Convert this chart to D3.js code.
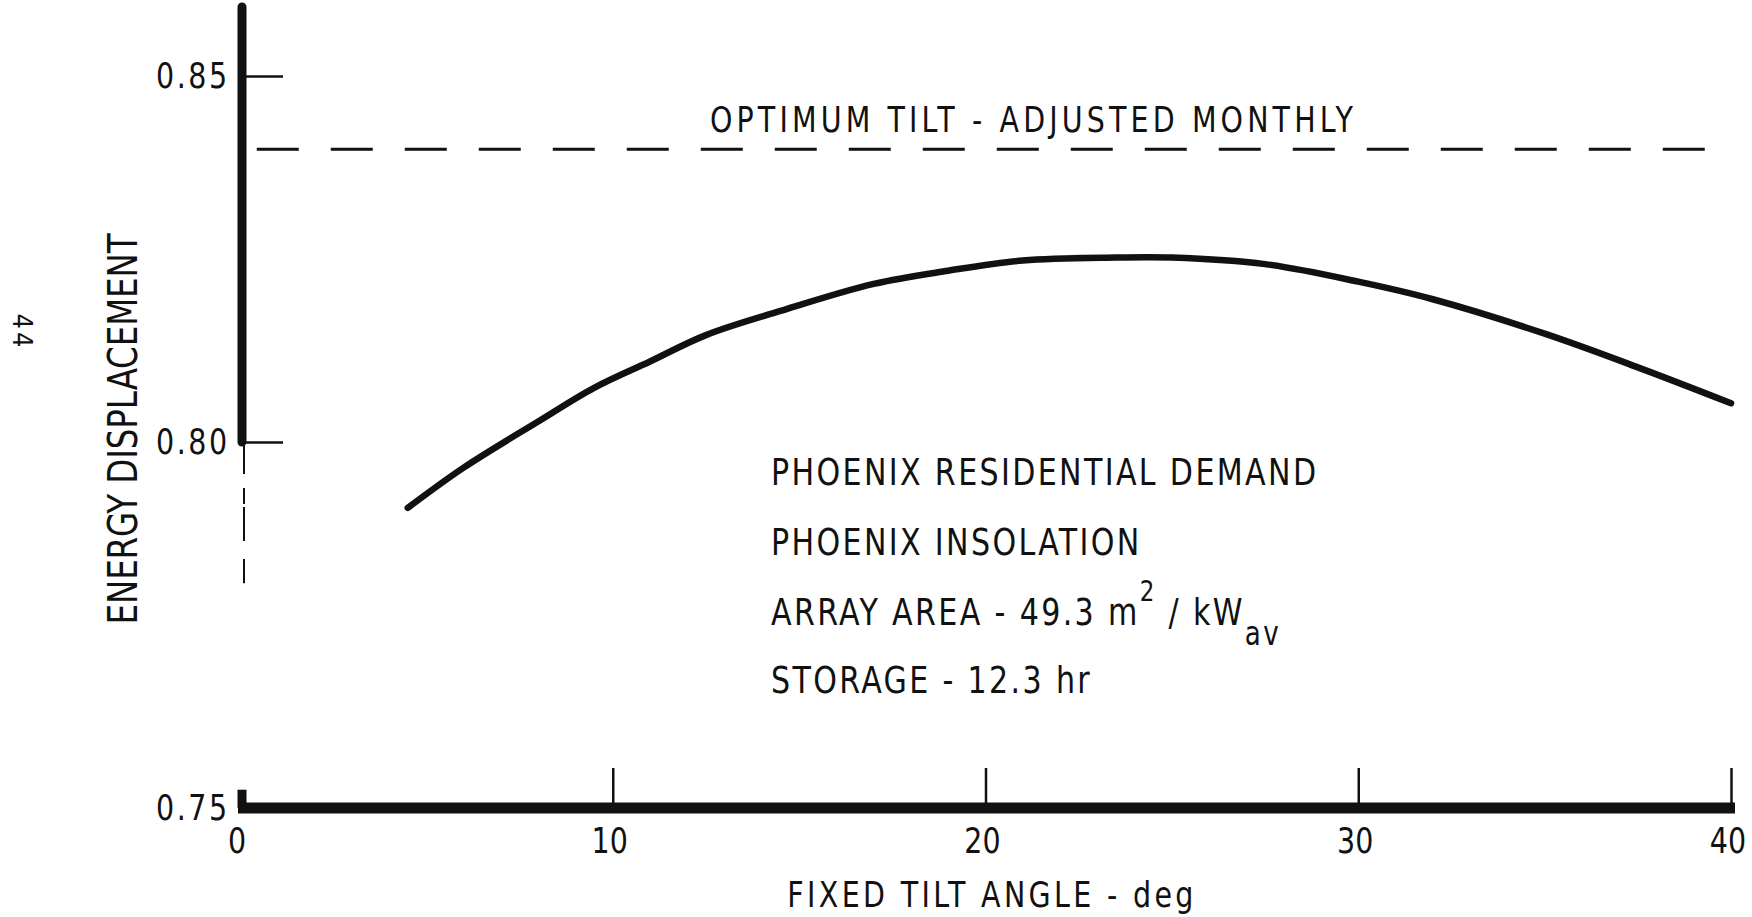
<!DOCTYPE html>
<html>
<head>
<meta charset="utf-8">
<script src="https://cdn.jsdelivr.net/npm/d3@7"></script>
<style>
	html, body { margin: 0; padding: 0; background: #fff; }
	svg { display: block; }
	text { fill: #111; font-family: "DejaVu Sans Condensed", "DejaVu Sans", sans-serif; }
</style>
</head>
<body>
<div id="chart"></div>
<script>
'use strict';

// Fixed tilt curve
var tiltAngles = [4.5, 6, 8, 9.5, 11, 12.5, 14.5, 17, 19, 21, 23.5, 25, 27.5, 30, 32, 35, 37.5, 40];
var displacement = [0.791, 0.7965, 0.8028, 0.8074, 0.811, 0.8146, 0.8179, 0.8216, 0.8234, 0.8248, 0.8252, 0.8252, 0.8243, 0.8219, 0.8195, 0.8148, 0.8102, 0.8053];

// Optimum tilt, adjusted monthly (dashed reference)
var optimumValue = 0.84;
var optimumSpan = [0.45, 40];

var xTicks = [0, 10, 20, 30, 40];
var yTicks = [0.75, 0.80, 0.85];

var notes = ['PHOENIX RESIDENTIAL DEMAND', 'PHOENIX INSOLATION', 'ARRAY AREA - 49.3 m', 'STORAGE - 12.3 hr'];

var width = 1752, height = 917;
var NARROW = 0.88;   // lettering is a bit narrower than the installed fonts

var svg = d3.select('#chart')
	.append('svg')
	.attr('width', width)
	.attr('height', height);

var x = d3.scaleLinear().domain([0, 40]).range([240, 1731]);
var y = d3.scaleLinear().domain([0.75, 0.85]).range([808, 76]);

/*** Helpers ---> ***/
// widen letter spacing so the (narrowed) text spans the target width on screen
function spreadTo(sel, target, sx) {
	var node = sel.node();
	var natural = node.getComputedTextLength();
	var n = node.textContent.length;
	var s = (target / sx - natural) / (n - 1);
	sel.attr('letter-spacing', s.toFixed(2));
	return s;
}

function label(tx, ty, rot, str, size, anchor) {
	return svg.append('text')
		.attr('transform', 'translate(' + tx + ',' + ty + ') rotate(' + rot + ') scale(' + NARROW + ',1)')
		.attr('text-anchor', anchor)
		.attr('font-size', size)
		.text(str);
}
/*** <--- Helpers ***/

// Y axis: heavy rule down to 0.80, then a broken thin trace, and the stub at 0.75
svg.append('line')
	.attr('x1', 242).attr('x2', 242)
	.attr('y1', 7).attr('y2', y(0.80))
	.attr('stroke', '#111').attr('stroke-width', 9).attr('stroke-linecap', 'round');
svg.append('line')
	.attr('x1', 244).attr('x2', 244)
	.attr('y1', y(0.80)).attr('y2', y(0.7807))
	.attr('stroke', '#111').attr('stroke-width', 2)
	.attr('stroke-dasharray', '32 14 16 3 34 18 26');
svg.append('line')
	.attr('x1', 242).attr('x2', 242)
	.attr('y1', y(0.7525)).attr('y2', y(0.75))
	.attr('stroke', '#111').attr('stroke-width', 9);

var yAxis = d3.axisLeft(y)
	.tickValues(yTicks)
	.tickSizeInner(-41)
	.tickSizeOuter(0)
	.tickPadding(15)
	.tickFormat(d3.format('.2f'));

var gy = svg.append('g')
	.attr('transform', 'translate(242,0)')
	.call(yAxis);
gy.select('.domain').remove();
gy.selectAll('.tick line').attr('stroke', '#111').attr('stroke-width', 2.5);
gy.selectAll('.tick text')
	.attr('font-size', 36)
	.attr('fill', '#111')
	.attr('transform', 'scale(' + NARROW + ',1)')
	.each(function() {
		var s = spreadTo(d3.select(this), 71, NARROW);
		d3.select(this).attr('x', -15 / NARROW + s);
	});

// X axis
var xAxis = d3.axisBottom(x)
	.tickValues(xTicks)
	.tickSizeInner(-40)
	.tickSizeOuter(0)
	.tickPadding(19);

var gx = svg.append('g')
	.attr('transform', 'translate(0,' + y(0.75) + ')')
	.call(xAxis);
gx.select('.domain').remove();
gx.selectAll('.tick line')
	.attr('stroke', '#111').attr('stroke-width', 2.5)
	.filter(function(d) { return d === 0; }).remove();
gx.selectAll('.tick text')
	.attr('font-size', 36)
	.attr('fill', '#111')
	.attr('dx', -4)
	.attr('transform', 'scale(' + NARROW + ',1)');
gx.append('line')
	.attr('x1', x(0) - 2).attr('x2', x(40) + 4)
	.attr('stroke', '#111').attr('stroke-width', 11);

// Optimum tilt dashed line
svg.append('line')
	.attr('x1', x(optimumSpan[0])).attr('x2', x(optimumSpan[1]))
	.attr('y1', y(optimumValue)).attr('y2', y(optimumValue))
	.attr('stroke', '#111').attr('stroke-width', 3)
	.attr('stroke-dasharray', '42 32');

var optLabel = label(710, 132, 0, 'OPTIMUM TILT - ADJUSTED MONTHLY', 36, 'start');
spreadTo(optLabel, 643, NARROW);

// Fixed tilt curve
var line = d3.line()
	.x(function(d, i) { return x(tiltAngles[i]); })
	.y(function(d) { return y(d); })
	.curve(d3.curveCatmullRom);

svg.append('path')
	.datum(displacement)
	.attr('d', line)
	.attr('fill', 'none')
	.attr('stroke', '#111')
	.attr('stroke-width', 6.5)
	.attr('stroke-linecap', 'round')
	.attr('stroke-linejoin', 'round');

// Case notes
var noteBaselines = [485, 555, 625, 693];
var noteText = notes.map(function(s, i) {
	return label(771, noteBaselines[i], 0, s, 38, 'start');
});
var spacing = spreadTo(noteText[0], 545, NARROW);
noteText.forEach(function(sel) { sel.attr('letter-spacing', spacing.toFixed(2)); });

var area = noteText[2];
area.append('tspan').attr('dy', -24).attr('font-size', 29).text('2');
area.append('tspan').attr('dy', 24).text(' / kW');
area.append('tspan').attr('dy', 20).attr('font-size', 33).text('av');

// Axis titles
var yTitle = label(137, 429, -90, 'ENERGY DISPLACEMENT', 41, 'middle');
spreadTo(yTitle, 391, NARROW);

var xTitle = label(992, 907, 0, 'FIXED TILT ANGLE - deg', 36, 'middle');
spreadTo(xTitle, 406, NARROW);

// Page number, turned with the page
svg.append('text')
	.attr('transform', 'translate(13,332) rotate(90)')
	.attr('text-anchor', 'middle')
	.attr('font-family', '"DejaVu Sans", sans-serif')
	.attr('font-size', 27)
	.attr('letter-spacing', 3)
	.text('44');
</script>
</body>
</html>
